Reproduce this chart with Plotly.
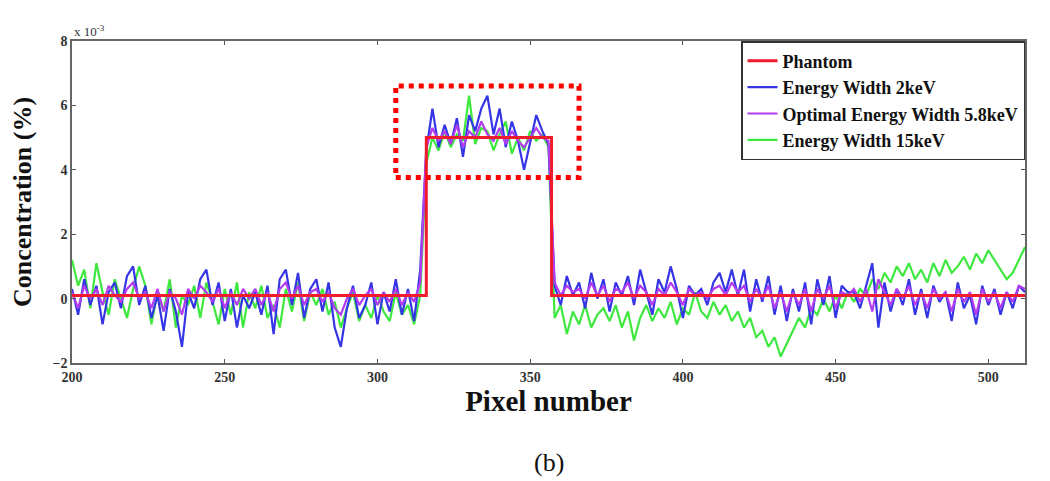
import plotly.graph_objects as go

## pixel positions 200..512, every 2nd pixel
pixels = list(range(200, 513, 2))

## concentration, in units of 1e-3 %
## Energy Width 2keV
width_2kev = [
    0.3, -0.5, 0.6, -0.2, 0.4, -0.8, 0.2, 0.5, -0.3, 0.7,
    1.0, -0.2, 0.4, -0.6, 0.1, -1.0, 0.3, -0.4, -1.5, 0.2,
    -0.3, 0.6, 0.9, -0.2, 0.5, -0.7, 0.3, -0.9, 0.1, -0.3,
    0.2, -0.5, 0.4, -1.1, 0.6, 0.9, -0.2, 0.8, -0.6, 0.3,
    0.6, -0.4, 0.5, -0.9, -1.5, -0.3, 0.4, -0.6, -0.2, 0.5,
    -0.8, 0.2, -0.4, 0.6, -0.5, 0.3, -0.7, 0.9,
    4.6, 5.9, 4.7, 5.4, 4.8, 5.6, 4.4, 5.7, 5.2, 5.9,
    6.3, 5.1, 5.9, 4.7, 5.5, 4.9, 4.0, 4.8, 5.7, 5.2, 4.8,
    0.4, -0.2, 0.7, 0.1, 0.5, -0.3, 0.8, 0.0, 0.6, -0.4,
    0.5, 0.1, 0.7, -0.2, 0.9, 0.2, -0.5, 0.6, 0.2, 1.0,
    0.3, -0.6, 0.4, 0.1, 0.3, -0.2, 0.5, 0.8, 0.2, 0.9,
    0.1, 0.9, -0.4, 0.6, -0.1, 0.7, -0.5, 0.4, -0.7, 0.3,
    -0.4, 0.5, -0.8, 0.6, -0.2, 0.7, -0.6, 0.4, 0.2, 0.2,
    -0.3, 0.4, 1.1, -0.9, 0.5, -0.4, 0.3, -0.2, 0.6, -0.5,
    0.3, -0.6, 0.4, -0.1, 0.2, -0.7, 0.5, -0.3, 0.1, -0.8,
    0.4, -0.2, 0.3, -0.5, 0.2, -0.3, 0.4, 0.2,
]

## Optimal Energy Width 5.8keV
width_opt = [
    0.2, -0.3, 0.4, 0.0, 0.3, -0.2, 0.4, 0.1, -0.1, 0.3,
    0.5, 0.0, 0.2, -0.3, 0.3, -0.4, 0.2, 0.0, -0.5, 0.3,
    0.0, 0.4, 0.2, -0.1, 0.3, -0.3, 0.2, -0.2, 0.3, 0.0,
    0.3, -0.2, 0.2, -0.4, 0.3, 0.5, 0.0, 0.4, -0.2, 0.2,
    0.3, -0.1, 0.2, -0.3, -0.5, 0.0, 0.3, -0.2, 0.1, 0.3,
    -0.2, 0.2, -0.1, 0.3, -0.2, 0.2, -0.1, 0.5,
    4.7, 5.3, 4.9, 5.2, 4.8, 5.4, 4.7, 5.2, 5.0, 5.5,
    5.1, 4.9, 5.3, 4.8, 5.2, 4.9, 4.7, 5.0, 5.3, 5.0, 4.9,
    0.5, 0.1, 0.4, 0.2, 0.3, 0.0, 0.5, 0.1, 0.4, -0.1,
    0.3, 0.2, 0.5, 0.0, 0.4, 0.2, -0.2, 0.3, 0.1, 0.5,
    0.2, -0.2, 0.3, 0.1, 0.2, 0.0, 0.3, 0.4, 0.1, 0.5,
    0.2, 0.4, -0.1, 0.3, 0.0, 0.4, -0.3, 0.2, -0.4, 0.2,
    -0.2, 0.3, -0.4, 0.3, 0.0, 0.4, -0.3, 0.2, 0.1, 0.3,
    -0.1, 0.3, -0.4, 0.6, 0.2, -0.2, 0.3, 0.0, 0.4, -0.2,
    0.2, -0.3, 0.3, 0.0, 0.2, -0.4, 0.3, -0.1, 0.2, -0.5,
    0.3, -0.1, 0.2, -0.3, 0.2, -0.1, 0.4, 0.3,
]

## Energy Width 15keV
width_15kev = [
    1.2, 0.4, 0.9, -0.3, 1.1, 0.2, -0.5, 0.6, 0.0, -0.6,
    0.3, 1.0, 0.4, -0.8, 0.2, -0.4, 0.6, -0.9, 0.1, -0.2,
    0.4, -0.6, 0.5, -0.1, -0.8, 0.3, -0.5, 0.5, -0.9, 0.2,
    -0.3, 0.4, -0.6, -0.2, -0.9, 0.3, -0.4, 0.5, -0.7, 0.2,
    -0.2, 0.3, -0.5, -0.1, -0.9, -0.3, 0.2, -0.7, -0.2, -0.6,
    0.1, -0.4, -0.7, 0.2, -0.5, -0.2, -0.8, 0.1,
    4.2, 5.0, 4.6, 5.2, 4.7, 5.1, 4.9, 6.3, 4.8, 5.3,
    5.2, 4.6, 5.1, 5.5, 4.5, 5.0, 4.6, 5.2, 4.9, 5.1, 4.7,
    -0.6, -0.2, -1.1, -0.4, -0.8, -0.2, -0.9, -0.5, -0.3, -0.7,
    -0.2, -0.9, -0.4, -1.3, -0.6, -0.2, -0.7, -0.3, -0.6, -0.1,
    -0.8, -0.3, -0.5, 0.2, -0.4, -0.6, -0.1, -0.5, -0.2, -0.7,
    -0.4, -0.9, -0.6, -1.2, -1.0, -1.5, -1.2, -1.8, -1.4, -1.0,
    -0.6, -0.9, -0.3, -0.5, 0.0, -0.4, 0.1, -0.3, 0.2, -0.1,
    0.3, 0.1, 0.6, 0.3, 0.8, 0.5, 1.0, 0.7, 1.1, 0.6,
    0.9, 0.5, 1.1, 0.7, 1.2, 0.8, 1.0, 1.3, 0.9, 1.4,
    1.1, 1.5, 1.2, 0.9, 0.6, 0.8, 1.2, 1.6,
]

## phantom profile (step)
phantom_x = [200, 316, 316, 357, 357, 512]
phantom_y = [0.1, 0.1, 5.0, 5.0, 0.1, 0.1]

## highlighted region
box_x = [306, 366]
box_y = [3.76, 6.6]

serif = "Liberation Serif"

fig = go.Figure()
fig.add_trace(go.Scatter(x=pixels, y=width_15kev, mode="lines", name="Energy Width 15keV",
                         line=dict(color="#3fe83f", width=2.2), legendrank=4))
fig.add_trace(go.Scatter(x=pixels, y=width_2kev, mode="lines", name="Energy Width 2keV",
                         line=dict(color="#3535e6", width=2.2), legendrank=2))
fig.add_trace(go.Scatter(x=pixels, y=width_opt, mode="lines", name="Optimal Energy Width 5.8keV",
                         line=dict(color="#b23cf0", width=2.2), legendrank=3))
fig.add_trace(go.Scatter(x=phantom_x, y=phantom_y, mode="lines", name="Phantom",
                         line=dict(color="#f01c2c", width=3), legendrank=1))

fig.add_shape(type="rect", x0=box_x[0], x1=box_x[1], y0=box_y[0], y1=box_y[1],
              line=dict(color="#ff0000", width=5, dash="dot"))

fig.add_annotation(text="x 10<sup>-3</sup>", xref="paper", yref="paper", x=0.0, y=1.0,
                   xanchor="left", yanchor="bottom", showarrow=False,
                   font=dict(family=serif, size=13, color="#333"))
fig.add_annotation(text="(b)", xref="paper", yref="paper", x=0.5, y=-0.31,
                   xanchor="center", yanchor="middle", showarrow=False,
                   font=dict(family=serif, size=26, color="#111"))

fig.update_xaxes(range=[200, 512], tickvals=[200, 250, 300, 350, 400, 450, 500],
                 ticks="inside", ticklen=4, tickcolor="#555", showgrid=False, zeroline=False,
                 showline=True, linecolor="#666", linewidth=1.5, mirror="ticks",
                 tickfont=dict(family=serif, size=14, color="#333", weight="bold"),
                 title=dict(text="Pixel number", standoff=6,
                            font=dict(family=serif, size=29, color="#111", weight="bold")))
fig.update_yaxes(range=[-2, 8], tickvals=[-2, 0, 2, 4, 6, 8],
                 ticks="inside", ticklen=4, tickcolor="#555", showgrid=False, zeroline=False,
                 showline=True, linecolor="#666", linewidth=1.5, mirror="ticks",
                 tickfont=dict(family=serif, size=14, color="#333", weight="bold"),
                 title=dict(text="Concentration (%)", standoff=14,
                            font=dict(family=serif, size=26, color="#111", weight="bold")))

## page body has an 8px margin, so the figure is shifted by that amount
fig.update_layout(
    width=1042, height=473,
    margin=dict(l=57, r=25, t=33, b=118),
    plot_bgcolor="white", paper_bgcolor="white",
    legend=dict(x=1, y=1, xanchor="right", yanchor="top", bgcolor="white",
                bordercolor="#333", borderwidth=1.5, itemwidth=30, tracegroupgap=0,
                font=dict(family=serif, size=18, color="#111", weight="bold")),
)

fig.write_html("out.html")
